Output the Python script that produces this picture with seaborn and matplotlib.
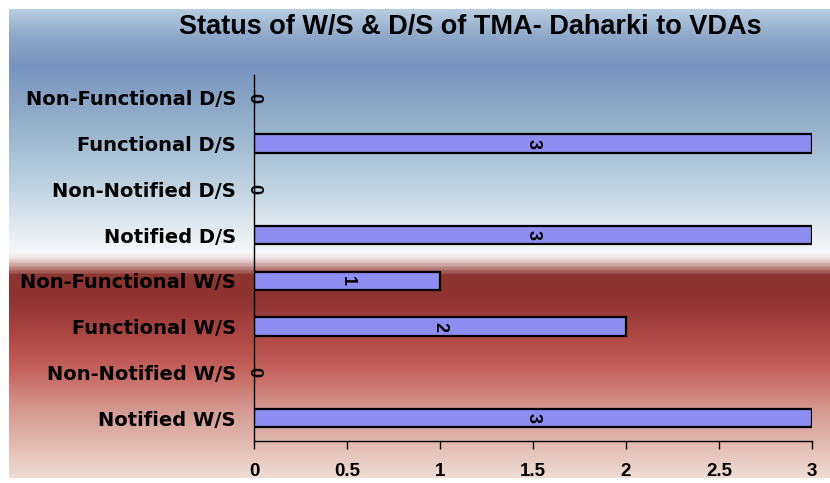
import numpy as np
import pandas as pd
import matplotlib
matplotlib.use('Agg')
import matplotlib.pyplot as plt
import seaborn as sns
from matplotlib.colors import LinearSegmentedColormap

# chart data (top to bottom)
categories = ['Non-Functional D/S', 'Functional D/S', 'Non-Notified D/S', 'Notified D/S',
              'Non-Functional W/S', 'Functional W/S', 'Non-Notified W/S', 'Notified W/S']
counts = [0, 3, 0, 3, 1, 2, 0, 3]
x_ticks = [0, 0.5, 1, 1.5, 2, 2.5, 3]
x_tick_labels = ['0', '0.5', '1', '1.5', '2', '2.5', '3']
title = 'Status of W/S & D/S of TMA- Daharki to VDAs'

W, H = 830, 483
sns.set_theme(style='white')
plt.rcParams['font.family'] = ['Liberation Sans', 'DejaVu Sans']

fig = plt.figure(figsize=(W / 100, H / 100), dpi=100)
fig.patch.set_facecolor('white')

# gradient background (blue top, white middle, red bottom)
bg_top, bg_bot, bg_left = 9, 478, 9
stops = [(9, '#b8ccdf'), (35, '#8ea8ca'), (65, '#7893bf'), (110, '#8eaac8'),
         (170, '#b4cada'), (220, '#dce6ee'), (252, '#f6f8fa'), (258, '#f0e8e8'),
         (266, '#c89a98'), (276, '#8c3430'), (300, '#8e3432'), (340, '#b04a46'),
         (370, '#c4625c'), (410, '#d49890'), (445, '#e2bab2'), (478, '#eedcd4')]
pos = [(p - bg_top) / (bg_bot - bg_top) for p, _ in stops]
cmap = LinearSegmentedColormap.from_list('bg', list(zip(pos, [c for _, c in stops])))
bg = fig.add_axes([bg_left / W, 1 - bg_bot / H, (W - bg_left) / W, (bg_bot - bg_top) / H])
bg.imshow(np.linspace(0, 1, 400).reshape(-1, 1), aspect='auto', cmap=cmap,
          extent=[0, 1, 1, 0])
bg.set_axis_off()
bg.set_zorder(0)

ax = fig.add_axes([254 / W, 1 - 441 / H, (812 - 254) / W, (441 - 75) / H])
ax.set_zorder(1)
ax.patch.set_alpha(0)

df = pd.DataFrame({'category': categories, 'count': counts})
sns.barplot(data=df, x='count', y='category', order=categories, orient='h',
            color='#8e8ef2', saturation=1, width=0.4, edgecolor='black',
            linewidth=1.6, ax=ax)

# value labels, rotated as in the original
for i, v in enumerate(counts):
    ax.text(v / 2, i, str(v), rotation=-90, ha='center', va='center',
            fontsize=13, fontweight='bold', color='black')

ax.set_xlim(0, 3)
ax.set_ylim(7.5, -0.5)
ax.set_xticks(x_ticks)
ax.set_xticklabels(x_tick_labels)
ax.set_xlabel('')
ax.set_ylabel('')
for s in ['top', 'right']:
    ax.spines[s].set_visible(False)
for s in ['left', 'bottom']:
    ax.spines[s].set_color('black')
    ax.spines[s].set_linewidth(1)
ax.tick_params(axis='x', length=6, width=1, color='black', direction='out', pad=10,
               labelsize=13.5, bottom=True)
ax.tick_params(axis='y', length=0, pad=13, labelsize=14)
for lbl in ax.get_xticklabels():
    lbl.set_fontweight('bold')
    lbl.set_color('black')
for lbl in ax.get_yticklabels():
    lbl.set_fontweight('bold')
    lbl.set_color('black')
    lbl.set_family('DejaVu Sans')

fig.text(470 / W, 1 - 27 / H, title, ha='center', va='center', fontsize=19.5,
         fontweight='bold', color='black')

fig.savefig('out.png', dpi=100)
